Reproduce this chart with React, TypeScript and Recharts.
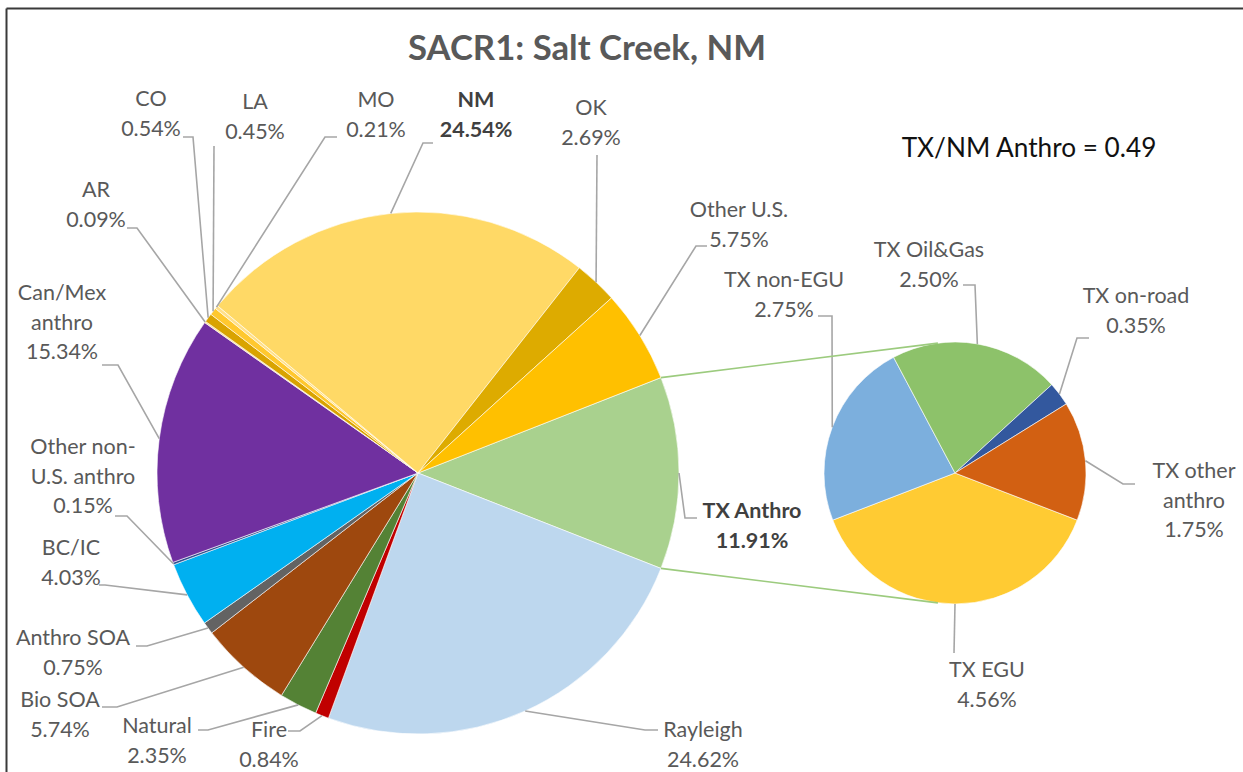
import React from 'react';
import { PieChart, Pie, Cell } from 'recharts';

// ---------- data ----------
const mainCategories = [
  'TX Anthro', 'Rayleigh', 'Fire', 'Natural', 'Bio SOA', 'Anthro SOA', 'BC/IC',
  'Other non-U.S. anthro', 'Can/Mex anthro', 'AR', 'CO', 'LA', 'MO', 'NM', 'OK', 'Other U.S.',
];
const mainValues = [11.91, 24.62, 0.84, 2.35, 5.74, 0.75, 4.03, 0.15, 15.34, 0.09, 0.54, 0.45, 0.21, 24.54, 2.69, 5.75];

const txCategories = ['TX EGU', 'TX non-EGU', 'TX Oil&Gas', 'TX on-road', 'TX other anthro'];
const txValues = [4.56, 2.75, 2.50, 0.35, 1.75];

const titleText = 'SACR1: Salt Creek, NM';
const ratioText = 'TX/NM Anthro = 0.49';

// label line wrapping
const wrapped: Record<string, string[]> = {
  'Other non-U.S. anthro': ['Other non-', 'U.S. anthro'],
  'Can/Mex anthro': ['Can/Mex', 'anthro'],
  'TX other anthro': ['TX other', 'anthro'],
};
const boldLabels = ['TX Anthro', 'NM'];

// ---------- styles ----------
const mainColors = [
  '#A9D18E', '#BDD7EE', '#C00000', '#548235', '#9E480E', '#636363', '#00B0F0',
  '#2F4F8F', '#7030A0', '#FFE08A', '#D9A300', '#FFC82E', '#FFE08A', '#FFD966', '#DDAB00', '#FFC000',
];
const txColors = ['#FFCB33', '#7CAFDD', '#8DC26A', '#33589E', '#D26012'];

const FONT = 'Lato, "Noto Sans", sans-serif';
const LABEL_SIZE = 21.5;
const LINE_H = 29.5;
const LEADER = '#A6A6A6';
const W = 1243;
const H = 772;

const MAIN = { cx: 418, cy: 473, r: 261 };
const SUB = { cx: 955, cy: 473, r: 131 };
const SUB_JOIN_ANGLE = 97.5;

type Place = { x: number; y: number; elbow: [number, number]; end: [number, number] | null };

const mainPlaces: Place[] = [
  { x: 752, y: 518, elbow: [685, 518], end: [697, 518] }, // TX Anthro
  { x: 703, y: 737, elbow: [645, 730], end: [658, 730] }, // Rayleigh
  { x: 269, y: 737, elbow: [300, 731], end: [288, 731] }, // Fire
  { x: 157, y: 733, elbow: [208, 730], end: [198, 730] }, // Natural
  { x: 60, y: 707, elbow: [117, 707], end: [102, 707] }, // Bio SOA
  { x: 73, y: 645, elbow: [147, 646], end: [136, 646] }, // Anthro SOA
  { x: 71, y: 555, elbow: [105, 585], end: [99, 585] }, // BC/IC
  { x: 83, y: 454, elbow: [127, 516], end: [115, 516] }, // Other non-US
  { x: 62, y: 300, elbow: [118, 365], end: [102, 365] }, // Can/Mex
  { x: 96, y: 197, elbow: [137, 228], end: [127, 228] }, // AR
  { x: 151, y: 106, elbow: [193, 137], end: [183, 137] }, // CO
  { x: 255, y: 109, elbow: [214, 146], end: null }, // LA
  { x: 376, y: 107, elbow: [325, 137], end: [337, 137] }, // MO
  { x: 476, y: 107, elbow: [423, 143], end: [433, 143] }, // NM
  { x: 591, y: 115, elbow: [597, 155], end: null }, // OK
  { x: 739, y: 217, elbow: [696, 246], end: [707, 246] }, // Other U.S.
];

const subPlaces: Place[] = [
  { x: 987, y: 677, elbow: [954, 653], end: null }, // TX EGU
  { x: 784, y: 287, elbow: [832, 316], end: [818, 316] }, // TX non-EGU
  { x: 929, y: 257, elbow: [975, 285], end: [963, 285] }, // TX Oil&Gas
  { x: 1136, y: 303, elbow: [1077, 338], end: [1089, 338] }, // TX on-road
  { x: 1194, y: 478, elbow: [1123, 484], end: [1135, 484] }, // TX other anthro
];

const mainData = mainCategories.map((name, i) => ({ name, value: mainValues[i] }));
const txData = txCategories.map((name, i) => ({ name, value: txValues[i] }));

const sum = (a: number[]) => a.reduce((s, v) => s + v, 0);
const mainStart = (180 * mainValues[0]) / sum(mainValues);
const subStart = -90 + (180 * txValues[0]) / sum(txValues);

const RAD = Math.PI / 180;

const makeLabel = (places: Place[]) => (props: any) => {
  const { cx, cy, midAngle, outerRadius, index, payload } = props;
  const p = places[index];
  if (!p) return null;
  const name: string = payload?.name ?? props.name;
  const value: number = payload?.value ?? props.value;
  const sx = cx + outerRadius * Math.cos(-midAngle * RAD);
  const sy = cy + outerRadius * Math.sin(-midAngle * RAD);
  const pts = [[sx, sy], p.elbow, ...(p.end ? [p.end] : [])];
  const lines = [...(wrapped[name] ?? [name]), `${value.toFixed(2)}%`];
  const bold = boldLabels.includes(name);
  return (
    <g key={`lab-${name}`}>
      <polyline points={pts.map((q) => q.join(',')).join(' ')} fill="none" stroke={LEADER} strokeWidth={1.6} />
      <text
        x={p.x}
        y={p.y}
        textAnchor="middle"
        fontFamily={FONT}
        fontSize={LABEL_SIZE}
        fontWeight={bold ? 700 : 400}
        fill={bold ? '#404040' : '#595959'}
      >
        {lines.map((t, i) => (
          <tspan key={i} x={p.x} dy={i === 0 ? 0 : LINE_H}>
            {t}
          </tspan>
        ))}
      </text>
    </g>
  );
};

const polar = (c: { cx: number; cy: number }, r: number, a: number) => [
  c.cx + r * Math.cos(a * RAD),
  c.cy - r * Math.sin(a * RAD),
];

export default function App() {
  const up1 = polar(MAIN, MAIN.r, mainStart);
  const lo1 = polar(MAIN, MAIN.r, -mainStart);
  const up2 = polar(SUB, SUB.r, SUB_JOIN_ANGLE);
  const lo2 = polar(SUB, SUB.r, -SUB_JOIN_ANGLE);
  return (
    <div style={{ position: 'relative', width: W, height: H, overflow: 'hidden', background: '#fff' }}>
      <style>{'html,body{margin:0;padding:0;overflow:hidden;}'}</style>
      <PieChart width={W} height={H} margin={{ top: 0, right: 0, bottom: 0, left: 0 }}>
        <Pie
          data={mainData}
          dataKey="value"
          nameKey="name"
          cx={MAIN.cx}
          cy={MAIN.cy}
          outerRadius={MAIN.r}
          innerRadius={0}
          startAngle={mainStart}
          endAngle={mainStart - 360}
          stroke="#ffffff"
          strokeWidth={0.6}
          isAnimationActive={false}
          labelLine={false}
          label={makeLabel(mainPlaces)}
        >
          {mainData.map((d, i) => (
            <Cell key={d.name} fill={mainColors[i]} />
          ))}
        </Pie>
        <Pie
          data={txData}
          dataKey="value"
          nameKey="name"
          cx={SUB.cx}
          cy={SUB.cy}
          outerRadius={SUB.r}
          innerRadius={0}
          startAngle={subStart}
          endAngle={subStart - 360}
          stroke="#ffffff"
          strokeWidth={0.6}
          isAnimationActive={false}
          labelLine={false}
          label={makeLabel(subPlaces)}
        >
          {txData.map((d, i) => (
            <Cell key={d.name} fill={txColors[i]} />
          ))}
        </Pie>
      </PieChart>
      <svg width={W} height={H} style={{ position: 'absolute', left: 0, top: 0, pointerEvents: 'none' }}>
        <line x1={6.5} y1={8.5} x2={W} y2={8.5} stroke="#3a3a3a" strokeWidth={2} />
        <line x1={6.5} y1={8.5} x2={6.5} y2={H} stroke="#3a3a3a" strokeWidth={2} />
        <line x1={up1[0]} y1={up1[1]} x2={up2[0]} y2={up2[1]} stroke="#9CCB7E" strokeWidth={1.6} />
        <line x1={lo1[0]} y1={lo1[1]} x2={lo2[0]} y2={lo2[1]} stroke="#9CCB7E" strokeWidth={1.6} />
        <text x={587} y={60} textAnchor="middle" fontFamily={FONT} fontSize={34.7} fontWeight={700} fill="#595959">
          {titleText}
        </text>
        <text x={1029} y={157} textAnchor="middle" fontFamily={FONT} fontSize={26.2} fill="#111111">
          {ratioText}
        </text>
      </svg>
    </div>
  );
}
